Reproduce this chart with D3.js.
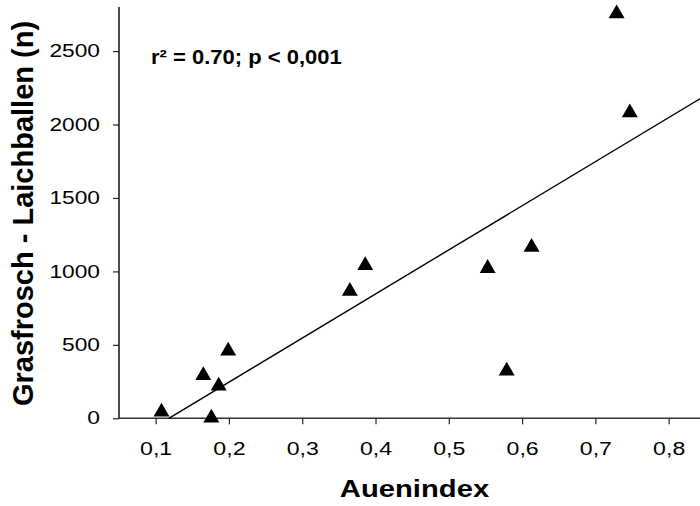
<!DOCTYPE html>
<html>
<head>
<meta charset="utf-8">
<script src="https://cdn.jsdelivr.net/npm/d3@7"></script>
<style>
  body { margin: 0; background: #fff; }
  text { font-family: "Liberation Sans", Arial, sans-serif; fill: #000; }
</style>
</head>
<body>
<div id="chart"></div>
<script>
// Auenindex vs. Grasfrosch spawn clumps
const auenindex = [0.108, 0.165, 0.176, 0.186, 0.199, 0.365, 0.386, 0.553, 0.579, 0.613, 0.729, 0.747];
const laichballen = [43, 292, 3, 220, 458, 866, 1041, 1021, 322, 1165, 2755, 2081];

// regression line end points
const fitX = [0.118, 0.85];
const fitY = [0, 2197];

const xTicks = [0.1, 0.2, 0.3, 0.4, 0.5, 0.6, 0.7, 0.8];
const yTicks = [0, 500, 1000, 1500, 2000, 2500];

const width = 700;
const height = 506;

const svg = d3.select("#chart").append("svg")
  .attr("width", width)
  .attr("height", height);

const x = d3.scaleLinear().domain([0.05, 0.85]).range([119, 705.3]);
const y = d3.scaleLinear().domain([0, 2800]).range([418.3, 7]);

// stretch text horizontally, the source font is wider than Arial
function stretch(sel, k) {
  sel.each(function() {
    const w = this.getComputedTextLength();
    d3.select(this).attr("textLength", w * k).attr("lengthAdjust", "spacingAndGlyphs");
  });
}

const xAxis = svg.append("g")
  .attr("transform", `translate(0,${y(0)})`)
  .call(d3.axisBottom(x).tickValues(xTicks).tickSize(6).tickPadding(17.4)
    .tickFormat(d => d3.format(".1f")(d).replace(".", ",")));
xAxis.select(".domain").attr("d", `M${x.range()[0]},0H${width}`).attr("stroke", "#333").attr("stroke-width", 1.4);
xAxis.selectAll(".tick line").attr("stroke", "#222").attr("stroke-width", 1.2);
xAxis.selectAll(".tick text").attr("font-size", 18.5).attr("font-family", null);
stretch(xAxis.selectAll(".tick text"), 1.25);

const yAxis = svg.append("g")
  .attr("transform", `translate(${x(0.05)},0)`)
  .call(d3.axisLeft(y).tickValues(yTicks).tickSize(6).tickPadding(13).tickFormat(d3.format("d")));
yAxis.select(".domain").attr("d", `M0,${y(0)}V${y(2800)}`).attr("stroke", "#000").attr("stroke-width", 1.4);
yAxis.selectAll(".tick line").attr("stroke", "#222").attr("stroke-width", 1.2);
yAxis.selectAll(".tick text").attr("font-size", 17.5).attr("font-family", null);
stretch(yAxis.selectAll(".tick text"), 1.3);

// regression line
svg.append("line")
  .attr("x1", x(fitX[0])).attr("y1", y(fitY[0]))
  .attr("x2", x(fitX[1])).attr("y2", y(fitY[1]))
  .attr("stroke", "#000")
  .attr("stroke-width", 1.4);

// points
svg.selectAll("path.pt")
  .data(auenindex.map((d, i) => [d, laichballen[i]]))
  .join("path")
  .attr("class", "pt")
  .attr("d", d3.symbol(d3.symbolTriangle, 110))
  .attr("transform", d => `translate(${x(d[0])},${y(d[1])})`)
  .attr("fill", "#000");

// annotation
const note = svg.append("text")
  .attr("x", 151)
  .attr("y", 64)
  .attr("font-size", 20)
  .attr("font-weight", "bold")
  .text("r² = 0.70; p < 0,001");
stretch(note, 1.1);

// axis titles
const xt = svg.append("text")
  .attr("x", 414.5)
  .attr("y", 497)
  .attr("text-anchor", "middle")
  .attr("font-size", 23)
  .attr("font-weight", "bold")
  .text("Auenindex");
stretch(xt, 1.27);

svg.append("text")
  .attr("transform", "translate(33,213.5) rotate(-90)")
  .attr("text-anchor", "middle")
  .attr("font-size", 29)
  .attr("font-weight", "bold")
  .text("Grasfrosch - Laichballen (n)");
</script>
</body>
</html>
